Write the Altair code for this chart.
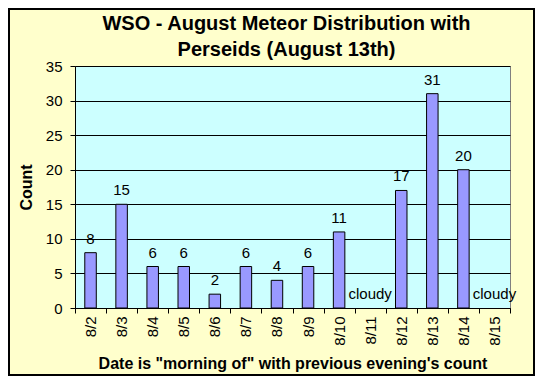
import altair as alt
import pandas as pd

dates = ["8/2", "8/3", "8/4", "8/5", "8/6", "8/7", "8/8", "8/9",
         "8/10", "8/11", "8/12", "8/13", "8/14", "8/15"]
counts = [8, 15, 6, 6, 2, 6, 4, 6, 11, None, 17, 31, 20, None]
notes = ["", "", "", "", "", "", "", "", "", "cloudy", "", "", "", "cloudy"]
y_ticks = [0, 5, 10, 15, 20, 25, 30, 35]

labels = [n if n else str(c) for c, n in zip(counts, notes)]
label_y = [c if c is not None else 0 for c in counts]

df = pd.DataFrame({"date": dates, "count": counts, "label": labels, "ly": label_y})

FONT = "Liberation Sans"

x_scale = alt.Scale(paddingInner=0, paddingOuter=0)
x_axis = alt.Axis(
    title="Date is \"morning of\" with previous evening's count",
    titleFont=FONT, titleFontSize=16, titleFontWeight="bold", titleColor="black",
    titleY=60, titleBaseline="alphabetic",
    labelFont=FONT, labelFontSize=15, labelColor="black", labelAngle=270,
    labelPadding=3, tickSize=5, tickColor="black", domainColor="black",
    tickBand="extent", grid=False,
)

y_scale = alt.Scale(domain=[0, 35], nice=False)
y_axis = alt.Axis(
    title="Count", titleFont=FONT, titleFontSize=16, titleFontWeight="bold",
    titleColor="black", titleAngle=270, titleX=-49, titleY=121,
    titleAlign="center", titleBaseline="middle",
    labelFont=FONT, labelFontSize=15, labelColor="black", labelPadding=8,
    labelOverlap=False, tickCount=len(y_ticks),
    tickSize=5, tickColor="black", domainColor="black",
    values=y_ticks,
    grid=True, gridColor="black", gridOpacity=1, gridWidth=1,
)

base = alt.Chart(df)

bars = base.mark_bar(
    width=alt.RelativeBandSize(0.37), color="#9999FF", stroke="black", strokeWidth=1
).encode(
    x=alt.X("date:N", sort=dates, scale=x_scale, axis=x_axis),
    y=alt.Y("count:Q", scale=y_scale, axis=y_axis),
)

text = base.mark_text(
    font=FONT, fontSize=15, color="black", baseline="alphabetic", dy=-9
).encode(
    x=alt.X("date:N", sort=dates, scale=x_scale, axis=x_axis),
    y=alt.Y("ly:Q", scale=y_scale, axis=y_axis),
    text="label:N",
)

frame = alt.Chart(alt.Data(values=[{}])).mark_rect(
    fill=None, stroke="black", strokeWidth=2
).encode(
    x=alt.value(-66), x2=alt.value(459), y=alt.value(-57), y2=alt.value(309)
)

chart = alt.layer(bars, text, frame).properties(
    width=435, height=242,
    padding={"left": 67, "top": 58, "right": 25, "bottom": 68},
    autosize=alt.AutoSizeParams(type="none"),
    background="#FFFFCC",
    title=alt.TitleParams(
        text=["WSO - August Meteor Distribution with", "Perseids (August 13th)"],
        font=FONT, fontSize=20, fontWeight="bold", color="black",
        anchor="middle", lineHeight=26, dx=-6, dy=58, offset=6,
    ),
).configure_view(
    fill="#CCFFFF", stroke="#808080", strokeWidth=1
)

chart.save("out.html", embed_options={"renderer": "svg", "actions": False})
